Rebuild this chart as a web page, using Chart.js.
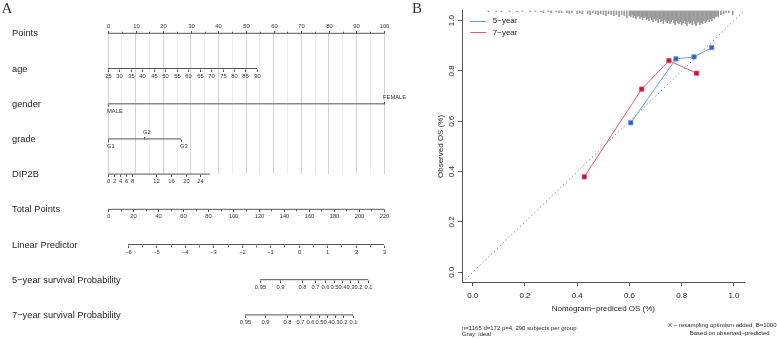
<!DOCTYPE html>
<html>
<head>
<meta charset="utf-8">
<script src="https://cdn.jsdelivr.net/npm/chart.js@4.4.0/dist/chart.umd.min.js"></script>
<style>
  html, body { margin: 0; padding: 0; background: #fff; }
  #wrap { position: relative; width: 777px; height: 339px; overflow: hidden; background: #fff; }
  #wrap canvas { position: absolute; left: 0; top: 0; }
</style>
</head>
<body>
<div id="wrap">
  <canvas id="nomo" width="777" height="339"></canvas>
  <canvas id="calib" width="777" height="339"></canvas>
</div>
<script>
// ---------------- Nomogram data (panel A) ----------------
const rowNames = ['Points', 'age', 'gender', 'grade', 'DIP2B', 'Total Points',
  'Linear Predictor', '5\u2212year survival Probability', '7\u2212year survival Probability'];

const pointsTicks = [0, 10, 20, 30, 40, 50, 60, 70, 80, 90, 100];

const ageValues = [25, 30, 35, 40, 45, 50, 55, 60, 65, 70, 75, 80, 85, 90];
const agePoints = [0, 4.1, 8.3, 12.4, 16.6, 20.8, 24.9, 29.1, 33.2, 37.4, 41.5, 45.7, 49.8, 54];

const genderLevels = ['MALE', 'FEMALE'];
const genderPoints = [0, 100];

const gradeLevels = ['G1', 'G2', 'G3'];
const gradePoints = [0, 13, 26.5];

const dip2bValues = [0, 2, 4, 6, 8, 12, 16, 20, 24];
const dip2bPoints = [0, 2.2, 4.3, 6.5, 8.7, 17.4, 22.8, 28.3, 33.3];
const dip2bMaxPoints = 37;

const totalTicks = [0, 20, 40, 60, 80, 100, 120, 140, 160, 180, 200, 220];

const lpValues = [-6, -5, -4, -3, -2, -1, 0, 1, 2, 3];
const lpTotal = [15.9, 38.6, 61.3, 84, 106.7, 129.3, 152, 174.7, 197.3, 220];

const survValues = [0.95, 0.9, 0.8, 0.7, 0.6, 0.5, 0.4, 0.3, 0.2, 0.1];
const surv5Total = [121.2, 137.4, 154.5, 165.1, 173.2, 180.2, 186.5, 192.7, 199.3, 207.4];
const surv7Total = [109.2, 125.5, 142.5, 153.1, 161.3, 168.2, 174.5, 180.7, 187.3, 195.5];

// ---------------- Calibration data (panel B) ----------------
const seriesNames = ['5\u2212year', '7\u2212year'];
const pred5 = [0.605, 0.778, 0.847, 0.915];
const obs5  = [0.594, 0.848, 0.856, 0.893];
const pred7 = [0.427, 0.647, 0.751, 0.857];
const obs7  = [0.379, 0.728, 0.841, 0.791];
const calTicks = [0, 0.2, 0.4, 0.6, 0.8, 1.0];
const axisLimits = [-0.04, 1.04];

// distribution of predicted values shown as spikes along the top
const rugPred = [
  0.06, 0.09, 0.11, 0.14, 0.17, 0.19, 0.22, 0.24, 0.26, 0.27, 0.29, 0.30, 0.32, 0.33, 0.34, 0.36,
  0.37, 0.38, 0.40, 0.41, 0.42, 0.44, 0.45, 0.46, 0.47, 0.48, 0.49, 0.50, 0.51, 0.52, 0.53, 0.54,
  0.55, 0.56, 0.57, 0.58, 0.59,
  0.600, 0.605, 0.610, 0.615, 0.620, 0.625, 0.630, 0.635, 0.640, 0.645, 0.650, 0.655, 0.660, 0.665,
  0.670, 0.675, 0.680, 0.685, 0.690, 0.695, 0.700, 0.705, 0.710, 0.715, 0.720, 0.725, 0.730, 0.735,
  0.740, 0.745, 0.750, 0.755, 0.760, 0.765, 0.770, 0.775, 0.780, 0.785, 0.790, 0.795, 0.800, 0.805,
  0.810, 0.815, 0.820, 0.825, 0.830, 0.835, 0.840, 0.845, 0.850, 0.855, 0.860, 0.865, 0.870, 0.875,
  0.880, 0.885, 0.890, 0.895, 0.900, 0.905, 0.910, 0.915, 0.920, 0.925, 0.930, 0.935, 0.940,
  0.95, 0.96, 0.97, 0.98, 0.995
];
const rugCount = [
  1, 1, 1, 1, 1, 1, 1, 1, 1, 2, 1, 2, 1, 2, 2, 2,
  3, 2, 3, 2, 3, 3, 4, 2, 3, 4, 3, 4, 5, 3, 4, 5,
  4, 6, 4, 5, 7,
  5, 6, 4, 7, 5, 8, 6, 5, 8, 6, 9, 7, 6, 9,
  8, 10, 7, 9, 11, 8, 10, 9, 12, 8, 11, 10, 13, 9,
  11, 12, 10, 13, 11, 9, 12, 14, 10, 12, 13, 11, 14, 12,
  10, 13, 15, 11, 13, 12, 14, 10, 13, 15, 12, 11, 14, 12,
  13, 10, 12, 11, 9, 11, 8, 10, 7, 8, 6, 5, 6,
  4, 3, 2, 2, 4
];

// ---------------- shared styling ----------------
const SANS = '"Liberation Sans", Arial, Helvetica, sans-serif';
const SERIF = '"Liberation Serif", "Times New Roman", serif';
const INK = '#262626';
const AXIS_INK = '#555555';
const fmt = v => String(v).replace('-', '\u2212');

// ---------------- nomogram rows ----------------
const pointsMinor = [];
for (let v = 5; v < 100; v += 10) pointsMinor.push(v);
const totalMinor = [];
for (let v = 10; v < 220; v += 20) totalMinor.push(v);
const lpMinor = [];
for (let i = 0; i < lpTotal.length - 1; i++) lpMinor.push((lpTotal[i] + lpTotal[i + 1]) / 2);
const gridPoints = [];
for (let v = 0; v <= 100; v += 5) gridPoints.push(v);

const rowsSpec = [
  { scale: 'x', span: [0, 100], up: true,
    ticks: pointsTicks.map(v => ({ at: v, text: fmt(v), up: true })), minor: pointsMinor },
  { scale: 'x', span: [agePoints[0], agePoints[agePoints.length - 1]],
    ticks: ageValues.map((v, i) => ({ at: agePoints[i], text: fmt(v) })) },
  { scale: 'x', span: [genderPoints[0], genderPoints[1]], color: '#8a8a8a', width: 1.4,
    ticks: genderLevels.map((v, i) => ({ at: genderPoints[i], text: v, up: i === 1, left: true })) },
  { scale: 'x', span: [gradePoints[0], gradePoints[2]],
    ticks: gradeLevels.map((v, i) => ({ at: gradePoints[i], text: v, up: i === 1, left: true })) },
  { scale: 'x', span: [0, dip2bMaxPoints],
    ticks: dip2bValues.map((v, i) => ({ at: dip2bPoints[i], text: fmt(v) })) },
  { scale: 'xt', span: [0, 220],
    ticks: totalTicks.map(v => ({ at: v, text: fmt(v) })), minor: totalMinor },
  { scale: 'xt', span: [lpTotal[0], lpTotal[lpTotal.length - 1]],
    ticks: lpValues.map((v, i) => ({ at: lpTotal[i], text: fmt(v) })), minor: lpMinor },
  { scale: 'xt', span: [surv5Total[0], surv5Total[surv5Total.length - 1]],
    ticks: survValues.map((v, i) => ({ at: surv5Total[i], text: String(v) })) },
  { scale: 'xt', span: [surv7Total[0], surv7Total[surv7Total.length - 1]],
    ticks: survValues.map((v, i) => ({ at: surv7Total[i], text: String(v) })) }
];

// draws row names, tick marks and tick labels of every nomogram axis
const nomoAxesPlugin = {
  id: 'nomoAxes',
  afterDatasetsDraw(chart) {
    const ctx = chart.ctx;
    const ys = chart.scales.y;
    const TICK = 2.5, MINOR = 1.8, OFF = 6.8;
    ctx.save();
    rowsSpec.forEach((row, r) => {
      const sx = chart.scales[row.scale];
      const y = Math.round(ys.getPixelForValue(r)) + 0.5;
      ctx.font = `9.3px ${SANS}`;
      ctx.fillStyle = INK;
      ctx.textAlign = 'left';
      ctx.textBaseline = 'middle';
      ctx.fillText(rowNames[r], 12, y);

      ctx.strokeStyle = AXIS_INK;
      ctx.lineWidth = 1;
      (row.minor || []).forEach(v => {
        const x = Math.round(sx.getPixelForValue(v)) + 0.5;
        ctx.beginPath();
        ctx.moveTo(x, y);
        ctx.lineTo(x, y + (row.up ? -MINOR : MINOR));
        ctx.stroke();
      });
      ctx.font = `5.8px ${SANS}`;
      ctx.fillStyle = '#333';
      row.ticks.forEach(t => {
        const x = Math.round(sx.getPixelForValue(t.at)) + 0.5;
        const dir = t.up ? -1 : 1;
        ctx.beginPath();
        ctx.moveTo(x, y);
        ctx.lineTo(x, y + dir * TICK);
        ctx.stroke();
        ctx.textAlign = t.left ? 'left' : 'center';
        ctx.fillText(t.text, t.left ? x - 1.5 : x, y + dir * OFF);
      });
    });
    ctx.font = `15px ${SERIF}`;
    ctx.fillStyle = '#333';
    ctx.textAlign = 'left';
    ctx.textBaseline = 'alphabetic';
    ctx.fillText('A', 1.5, 12.8);
    ctx.restore();
  }
};

new Chart(document.getElementById('nomo'), {
  type: 'line',
  data: {
    datasets: rowsSpec.map((row, r) => ({
      label: rowNames[r],
      data: [{ x: row.span[0], y: r }, { x: row.span[1], y: r }],
      xAxisID: row.scale,
      yAxisID: 'y',
      borderColor: row.color || AXIS_INK,
      borderWidth: row.width || 1,
      pointRadius: 0,
      fill: false,
      tension: 0,
      clip: false
    }))
  },
  options: {
    responsive: false,
    animation: false,
    devicePixelRatio: 1,
    events: [],
    layout: { padding: { left: 108, right: 393, top: 33.3, bottom: 164.9 } },
    plugins: { legend: { display: false }, tooltip: { enabled: false } },
    scales: {
      x: {
        type: 'linear', min: 0, max: 100, position: 'bottom', offset: false,
        afterBuildTicks: s => { s.ticks = gridPoints.map(v => ({ value: v })); },
        afterFit: s => { s.height = 0; },
        ticks: { display: false },
        border: { display: false },
        grid: {
          drawTicks: false,
          offset: false,
          lineWidth: 1,
          color: c => (c.tick && c.tick.value % 10 === 0) ? '#d3d3d3' : '#ededed'
        }
      },
      xt: { type: 'linear', min: 0, max: 220, display: false, offset: false },
      y: { type: 'linear', min: 0, max: 4, reverse: true, display: false }
    }
  },
  plugins: [nomoAxesPlugin]
});

// ---------------- calibration plot ----------------
const RUG_UNIT = 0.004;

const calibTextPlugin = {
  id: 'calibText',
  afterDraw(chart) {
    const ctx = chart.ctx;
    const area = chart.chartArea;
    ctx.save();
    ctx.font = `8px ${SANS}`;
    ctx.textBaseline = 'middle';
    ctx.textAlign = 'left';
    [0, 1].forEach(i => {
      const ds = chart.data.datasets[i];
      const y = area.top + 10.5 + i * 11.3;
      ctx.strokeStyle = ds.borderColor;
      ctx.lineWidth = 1;
      ctx.beginPath();
      ctx.moveTo(area.left + 8, Math.round(y) + 0.5);
      ctx.lineTo(area.left + 24, Math.round(y) + 0.5);
      ctx.stroke();
      ctx.fillStyle = INK;
      ctx.fillText(ds.label, area.left + 30.5, y);
    });
    ctx.font = `6px ${SANS}`;
    ctx.fillStyle = INK;
    ctx.fillText('n=1165 d=172 p=4, 290 subjects per group', 462, 328.3);
    ctx.fillText('Gray: ideal', 462, 334.6);
    ctx.textAlign = 'right';
    ctx.fillText('X \u2212 resampling optimism added, B=1000', 776.5, 325.6);
    ctx.textAlign = 'center';
    ctx.fillText('Based on observed\u2212predicted', 729.7, 333.2);
    ctx.font = `15px ${SERIF}`;
    ctx.fillStyle = '#333';
    ctx.textAlign = 'left';
    ctx.textBaseline = 'alphabetic';
    ctx.fillText('B', 412, 12.6);
    ctx.restore();
  }
};

const axisCommon = {
  type: 'linear',
  min: axisLimits[0],
  max: axisLimits[1],
  offset: false,
  afterBuildTicks: s => { s.ticks = calTicks.map(v => ({ value: v })); },
  grid: { drawOnChartArea: false, drawTicks: true, tickLength: 4, color: AXIS_INK, lineWidth: 1, offset: false },
  border: { display: true, color: AXIS_INK, width: 1 }
};

new Chart(document.getElementById('calib'), {
  type: 'scatter',
  data: {
    datasets: [
      {
        type: 'line', label: seriesNames[0],
        data: pred5.map((x, i) => ({ x, y: obs5[i] })),
        borderColor: '#6c9fd8', borderWidth: 1, tension: 0, fill: false,
        pointStyle: 'rect', pointRadius: 3, pointBackgroundColor: '#2b62c4',
        pointBorderColor: '#5a8de0', pointBorderWidth: 0.8
      },
      {
        type: 'line', label: seriesNames[1],
        data: pred7.map((x, i) => ({ x, y: obs7[i] })),
        borderColor: '#e0586b', borderWidth: 1, tension: 0, fill: false,
        pointStyle: 'rect', pointRadius: 3, pointBackgroundColor: '#c4133b',
        pointBorderColor: '#d9485f', pointBorderWidth: 0.8
      },
      {
        type: 'line', label: 'ideal',
        data: [{ x: axisLimits[0], y: axisLimits[0] }, { x: axisLimits[1], y: axisLimits[1] }],
        borderColor: '#8a8a8a', borderWidth: 1, borderDash: [1.5, 2.5], pointRadius: 0, fill: false
      },
      {
        type: 'bar', label: 'predicted',
        data: rugPred.map((x, i) => ({ x, y: [axisLimits[1] - rugCount[i] * RUG_UNIT, axisLimits[1]] })),
        backgroundColor: '#9a9a9a', borderWidth: 0, barThickness: 1, grouped: false
      }
    ]
  },
  options: {
    responsive: false,
    animation: false,
    devicePixelRatio: 1,
    events: [],
    layout: { padding: { left: 436.2, right: 32.6, top: 10.6, bottom: 25.2 } },
    plugins: { legend: { display: false }, tooltip: { enabled: false } },
    scales: {
      x: Object.assign({}, axisCommon, {
        position: 'bottom',
        afterFit: s => { s.height = 31.5; },
        ticks: { font: { family: SANS, size: 8 }, color: INK, padding: 5, autoSkip: false,
                 maxRotation: 0, callback: v => v.toFixed(1) },
        title: { display: true, text: 'Nomogram\u2212prediced OS (%)', font: { family: SANS, size: 8 },
                 color: INK, padding: 0 }
      }),
      y: Object.assign({}, axisCommon, {
        position: 'left',
        afterFit: s => { s.width = 26.1; },
        ticks: { font: { family: SANS, size: 8 }, color: INK, padding: 1, autoSkip: false,
                 minRotation: 90, maxRotation: 90, crossAlign: 'center', callback: v => v.toFixed(1) },
        title: { display: true, text: 'Observed OS (%)', font: { family: SANS, size: 8 },
                 color: INK, padding: 0 }
      })
    }
  },
  plugins: [calibTextPlugin]
});
</script>
</body>
</html>
